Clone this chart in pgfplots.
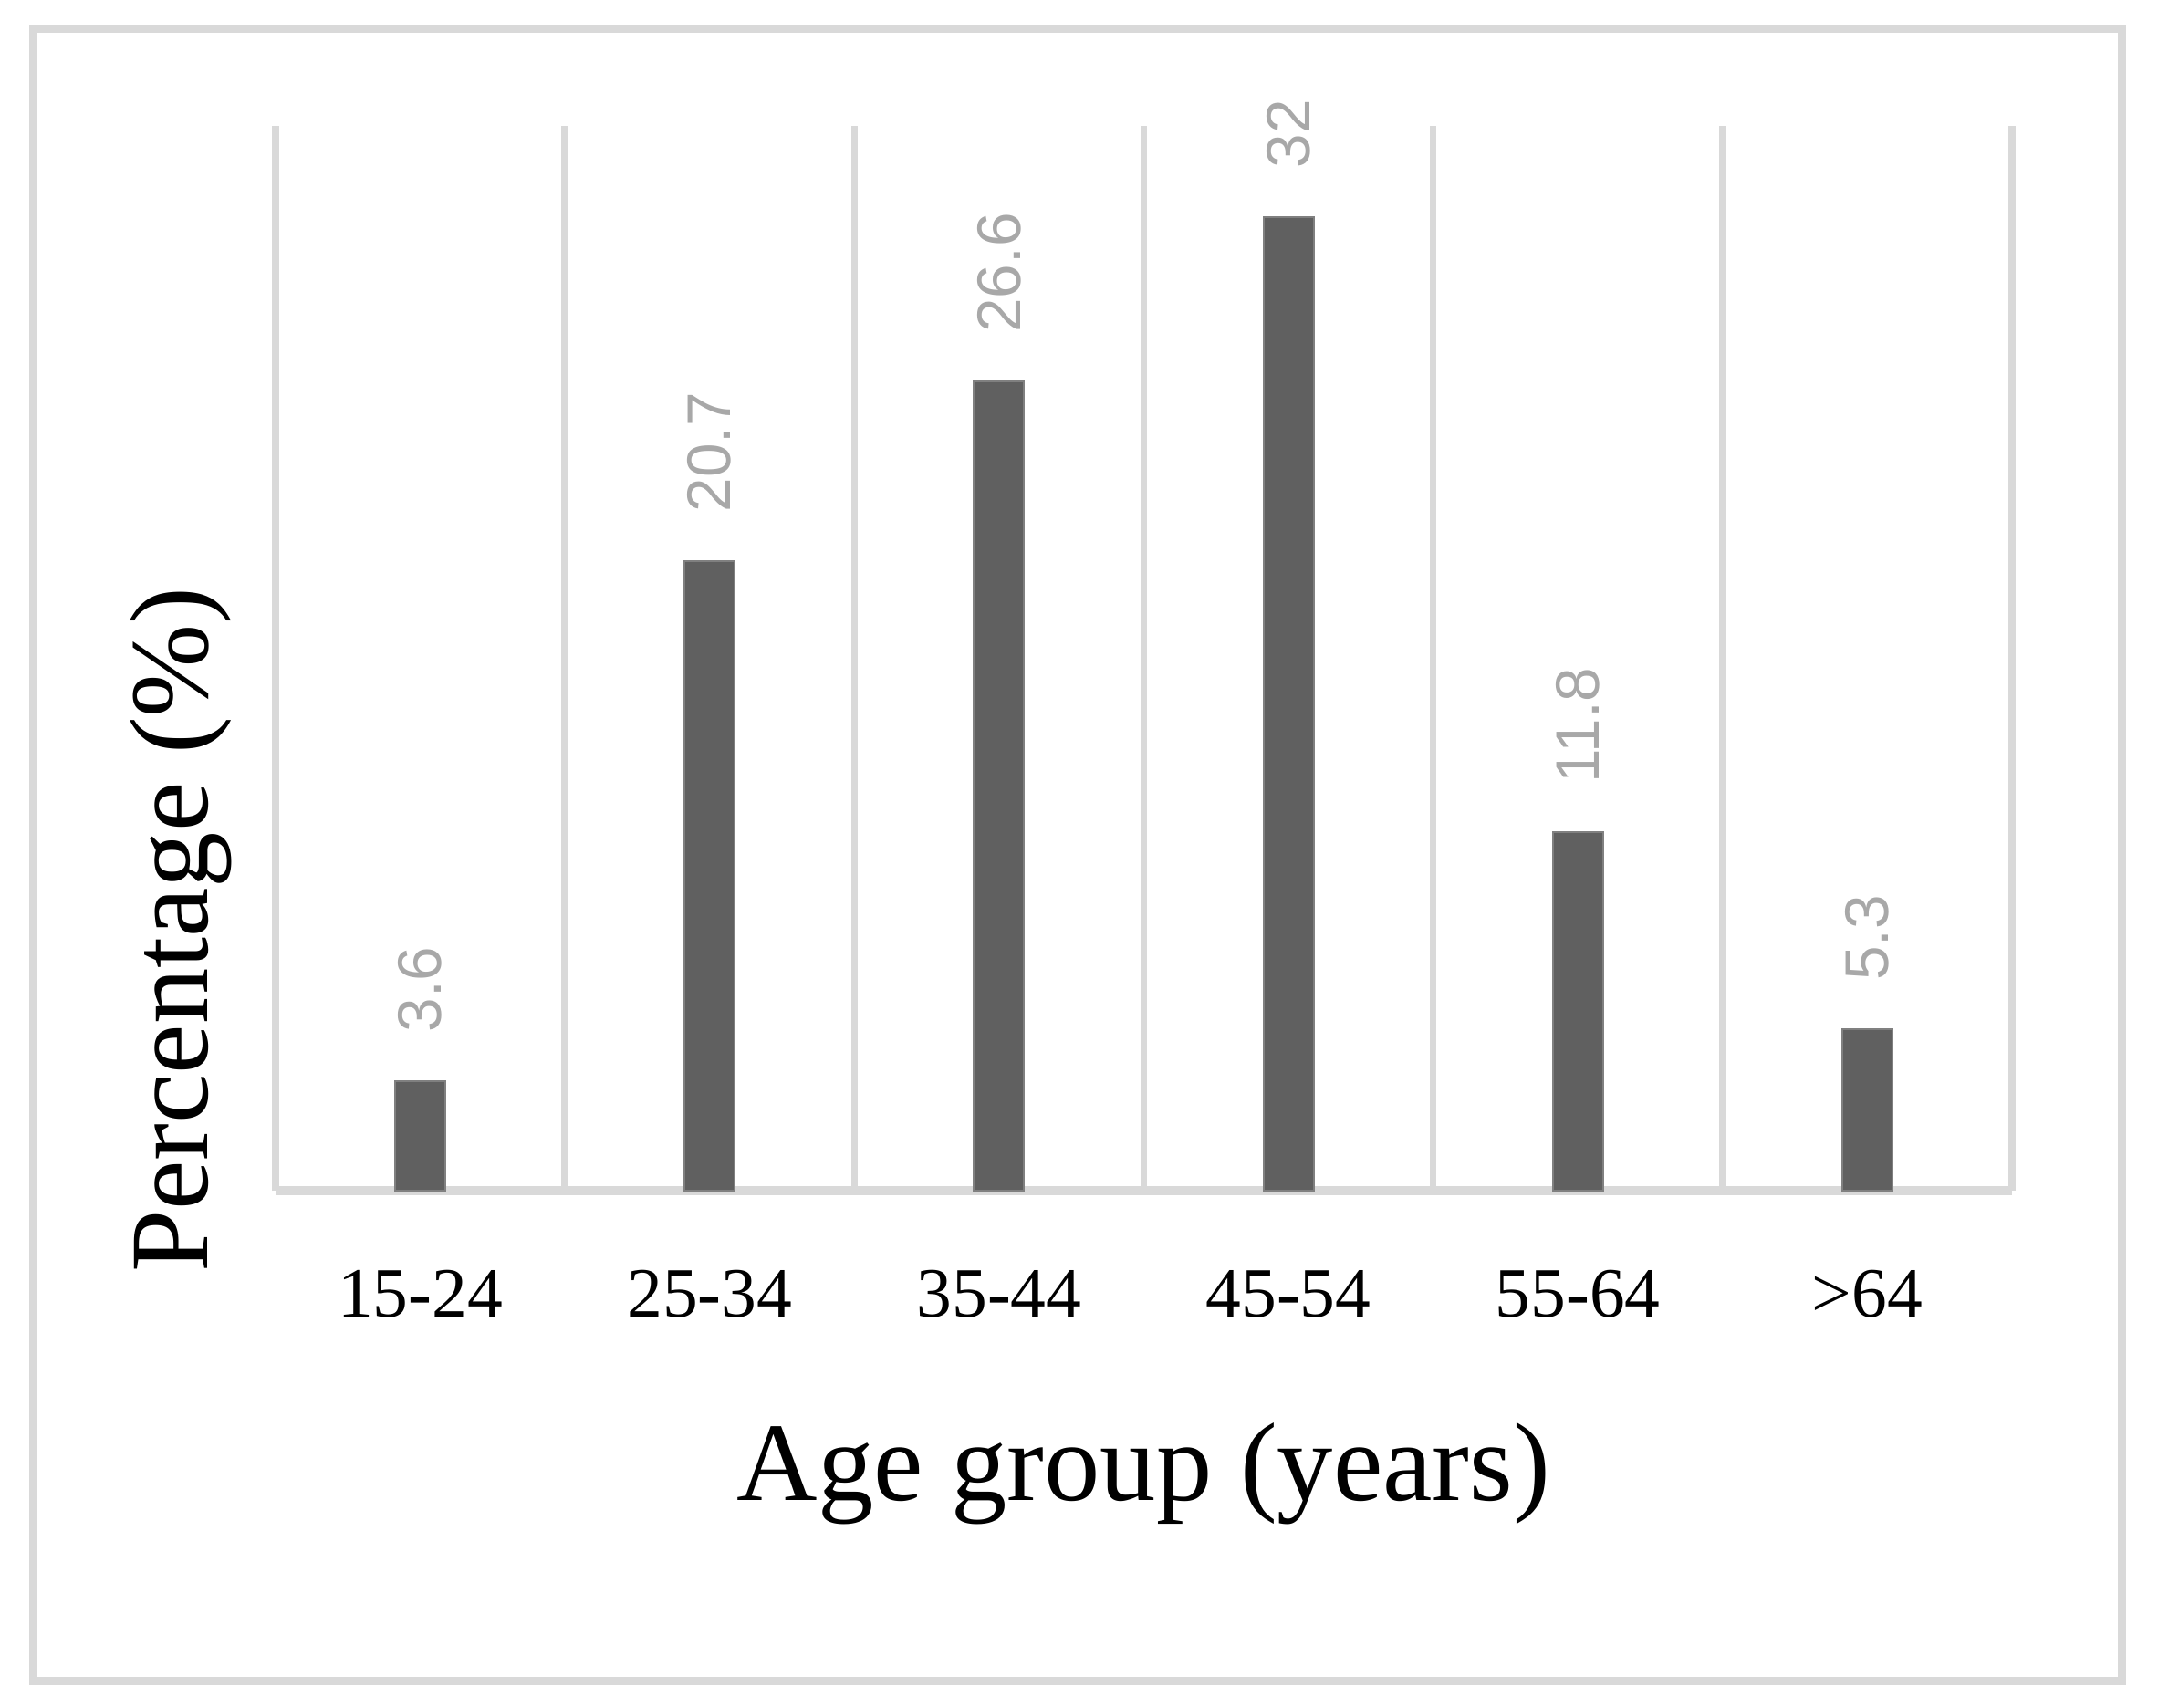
\documentclass[border=0pt]{standalone}
\usepackage{fontspec}
\setmainfont{Liberation Serif}
\newfontfamily\lblfont{Liberation Sans}
\usepackage{pgfplots}
\pgfplotsset{compat=1.18}
\definecolor{barcol}{RGB}{96,96,96}
\definecolor{gridcol}{RGB}{217,217,217}
\definecolor{valcol}{RGB}{168,168,168}
\begin{document}
\begin{tikzpicture}
\useasboundingbox (-60.4pt,-113.2pt) rectangle (412.6pt,261pt);
\draw[gridcol, line width=1.8pt] (-53pt,-107.4pt) rectangle (404.6pt,254.6pt);
\begin{axis}[
  at={(0,0)}, anchor=south west,
  scale only axis, width=380.6pt, height=233.4pt,
  xmin=-0.5, xmax=5.5, ymin=0, ymax=35,
  axis x line*=bottom, axis y line*=left,
  x axis line style={gridcol, line width=2pt, -},
  y axis line style={draw=none},
  ytick=\empty,
  xtick={0,...,5},
  xticklabels={15-24,25-34,35-44,45-54,55-64,>64},
  major tick length=0pt,
  minor xtick={-0.5,0.5,...,5.5},
  minor tick length=0pt,
  xminorgrids=true,
  minor grid style={gridcol, line width=1.5pt},
  xticklabel style={font=\fontsize{15.5}{18}\selectfont, anchor=base, yshift=-27.6pt},
  xlabel={Age group (years)},
  xlabel style={font=\fontsize{24.5}{28}\selectfont, at={(rel axis cs:0.5,-0.2913)}, anchor=base},
  ylabel={Percentage (\%)},
  ylabel style={font=\fontsize{24.5}{28}\selectfont, at={(rel axis cs:-0.0394,0.245)}, anchor=base},
  ybar, bar width=11pt,
  point meta=y,
  nodes near coords={\pgfmathprintnumber[fixed,precision=1,assume math mode=true]{\pgfplotspointmeta}},
  every node near coord/.append style={font=\lblfont\fontsize{13.5}{16}\selectfont, text=valcol, rotate=90, anchor=west, inner xsep=10.5pt, inner ysep=0pt},
  clip=false,
]
\addplot[fill=barcol, draw=barcol!80!white, line width=0.4pt] coordinates {(0,3.6) (1,20.7) (2,26.6) (3,32) (4,11.8) (5,5.3)};
\end{axis}
\end{tikzpicture}
\end{document}
